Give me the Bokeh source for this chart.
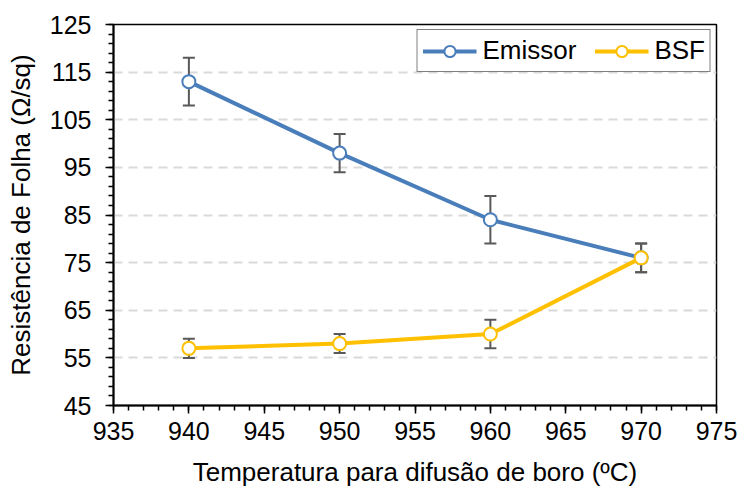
from bokeh.plotting import figure
from bokeh.models import (Range1d, FixedTicker, ColumnDataSource, Whisker, TeeHead, Legend, LegendItem)
from bokeh.embed import file_html
from bokeh.resources import INLINE

temps = [940, 950, 960, 970]
emissor = [113, 98, 84, 76]
emissor_err = [5, 4, 5, 3]
bsf = [57, 58, 60, 76]
bsf_err = [2, 2, 3, 3]

x_ticks = [935, 940, 945, 950, 955, 960, 965, 970, 975]
y_ticks = [45, 55, 65, 75, 85, 95, 105, 115, 125]

FONT = "Liberation Sans"
BLUE = "#4A7EBB"
GOLD = "#FFC000"
GRAY = "#595959"

p = figure(width=739, height=489, output_backend="svg", toolbar_location=None,
           x_range=Range1d(935, 975), y_range=Range1d(45, 125),
           min_border_left=113, min_border_right=23, min_border_top=24, min_border_bottom=84)
p.background_fill_color = "white"
p.border_fill_color = "white"
p.outline_line_color = "black"
p.outline_line_width = 1.5

p.xaxis.ticker = FixedTicker(ticks=x_ticks, minor_ticks=list(range(935, 976, 1)))
p.yaxis.ticker = FixedTicker(ticks=y_ticks, minor_ticks=list(range(45, 126, 2)))

for ax in (p.xaxis, p.yaxis):
    ax.axis_line_color = "black"
    ax.axis_line_width = 2
    ax.major_tick_line_color = "black"
    ax.major_tick_line_width = 1.5
    ax.minor_tick_line_color = "black"
    ax.minor_tick_line_width = 1.5
    ax.major_tick_in = 0
    ax.major_tick_out = 8
    ax.minor_tick_in = 0
    ax.minor_tick_out = 5
    ax.major_label_text_font = FONT
    ax.major_label_text_font_size = "25px"
    ax.major_label_text_color = "black"
    ax.axis_label_text_font = FONT
    ax.axis_label_text_font_size = "26px"
    ax.axis_label_text_font_style = "normal"
    ax.axis_label_text_color = "black"

p.xaxis.axis_label = "Temperatura para difusão de boro (ºC)"
p.yaxis.axis_label = "Resistência de Folha (Ω/sq)"
p.xaxis.major_label_standoff = 8
p.yaxis.major_label_standoff = 14
p.xaxis.axis_label_standoff = 14
p.yaxis.axis_label_standoff = 11

p.xgrid.grid_line_color = None
p.ygrid.grid_line_color = "#D9D9D9"
p.ygrid.grid_line_width = 2
p.ygrid.grid_line_dash = "9 6"

src_e = ColumnDataSource(dict(x=temps, y=emissor,
                              lo=[v - e for v, e in zip(emissor, emissor_err)],
                              hi=[v + e for v, e in zip(emissor, emissor_err)]))
src_b = ColumnDataSource(dict(x=temps, y=bsf,
                              lo=[v - e for v, e in zip(bsf, bsf_err)],
                              hi=[v + e for v, e in zip(bsf, bsf_err)]))

for src in (src_e, src_b):
    w = Whisker(base="x", lower="lo", upper="hi", source=src,
                line_color=GRAY, line_width=2,
                upper_head=TeeHead(size=12, line_color=GRAY, line_width=2),
                lower_head=TeeHead(size=12, line_color=GRAY, line_width=2))
    p.add_layout(w)

le = p.line("x", "y", source=src_e, line_color=BLUE, line_width=4)
se = p.scatter("x", "y", source=src_e, size=13, fill_color="white", line_color=BLUE, line_width=2)
lb = p.line("x", "y", source=src_b, line_color=GOLD, line_width=4)
sb = p.scatter("x", "y", source=src_b, size=13, fill_color="white", line_color=GOLD, line_width=2)

legend = Legend(items=[LegendItem(label="Emissor", renderers=[le, se]),
                       LegendItem(label="BSF", renderers=[lb, sb])],
                location="top_right", orientation="horizontal",
                border_line_color="black", border_line_width=1.5,
                background_fill_color="white", background_fill_alpha=1,
                label_text_font=FONT, label_text_font_size="26px", label_text_color="black",
                glyph_width=54, glyph_height=28, label_standoff=6, spacing=18,
                padding=5, margin=5)
p.add_layout(legend)

open("out.html", "w").write(file_html(p, INLINE))
